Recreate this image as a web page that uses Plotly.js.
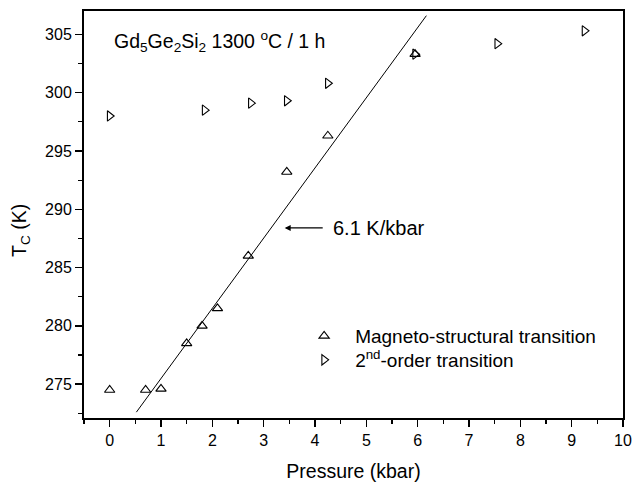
<!DOCTYPE html>
<html>
<head>
<meta charset="utf-8">
<script src="https://cdn.plot.ly/plotly-3.0.1.min.js"></script>
<style>html,body{margin:0;padding:0;background:#fff;}#chart{width:633px;height:482px;}</style>
</head>
<body>
<div id="chart"></div>
<script>
// Magneto-structural transition (open up-triangles)
const msPressure = [0, 0.7, 1.0, 1.5, 1.8, 2.1, 2.7, 3.45, 4.25, 5.95];
const msTc = [274.5, 274.5, 274.6, 278.5, 280.0, 281.5, 286.0, 293.2, 296.3, 303.3];
// 2nd-order transition (open right-triangles)
const soPressure = [0, 1.85, 2.75, 3.45, 4.25, 5.95, 7.55, 9.25];
const soTc = [298.0, 298.5, 299.1, 299.3, 300.8, 303.3, 304.2, 305.3];
// linear fit (6.1 K/kbar)
const fitPressure = [0.52, 6.17];
const fitTc = [272.6, 306.6];
// ticks
const xTicks = [0, 1, 2, 3, 4, 5, 6, 7, 8, 9, 10];
const yTicks = [275, 280, 285, 290, 295, 300, 305];

const FONT = 'Liberation Sans, Arial, Helvetica, sans-serif';

const traces = [
  {
    x: fitPressure, y: fitTc, mode: 'lines', type: 'scatter',
    line: {color: '#000', width: 1}, showlegend: false, hoverinfo: 'skip'
  },
  {
    x: msPressure, y: msTc, mode: 'markers', type: 'scatter',
    name: 'Magneto-structural transition', legend: 'legend',
    marker: {symbol: 'triangle-up-open', size: 9, color: '#000', line: {width: 1.1, color: '#000'}}
  },
  {
    x: soPressure, y: soTc, mode: 'markers', type: 'scatter',
    name: '2<sup>nd</sup>-order transition', legend: 'legend2',
    marker: {symbol: 'triangle-right-open', size: 9, color: '#000', line: {width: 1.1, color: '#000'}}
  }
];

const axisCommon = {
  showgrid: false, zeroline: false,
  showline: true, linecolor: '#000', linewidth: 2, mirror: true,
  ticks: 'outside', ticklen: 7, tickwidth: 1.5, tickcolor: '#000',
  tickfont: {family: FONT, size: 16, color: '#000'}
};

const legendCommon = {
  x: 0.388, xanchor: 'left', yanchor: 'middle',
  bgcolor: 'rgba(0,0,0,0)', borderwidth: 0, itemwidth: 52,
  font: {family: FONT, size: 19, color: '#000'}
};

const layout = {
  width: 633, height: 482,
  margin: {l: 84, r: 10, t: 11, b: 64},
  paper_bgcolor: '#fff', plot_bgcolor: '#fff',
  font: {family: FONT, color: '#000'},
  showlegend: true,
  xaxis: Object.assign({}, axisCommon, {
    range: [-0.5, 10], tickmode: 'array', tickvals: xTicks, ticktext: xTicks.map(String),
    minor: {dtick: 0.5, tick0: 0, ticks: 'outside', ticklen: 4, tickwidth: 1.2, tickcolor: '#000'},
    title: {text: 'Pressure (kbar)', font: {family: FONT, size: 19.5, color: '#000'}, standoff: 24}
  }),
  yaxis: Object.assign({}, axisCommon, {
    range: [272.1, 307], tickmode: 'array', tickvals: yTicks, ticktext: yTicks.map(String),
    minor: {dtick: 2.5, tick0: 275, ticks: 'outside', ticklen: 4, tickwidth: 1.2, tickcolor: '#000'}
  }),
  legend: Object.assign({}, legendCommon, {y: 0.2015}),
  legend2: Object.assign({}, legendCommon, {y: 0.1425}),
  annotations: [
    {
      xref: 'paper', yref: 'paper', x: 0.052, y: 0.926, xanchor: 'left', yanchor: 'middle',
      text: 'Gd<sub>5</sub>Ge<sub>2</sub>Si<sub>2</sub> 1300 <sup>o</sup>C / 1 h',
      showarrow: false, font: {family: FONT, size: 19.5, color: '#000'}
    },
    {
      xref: 'x', yref: 'y', x: 3.41, y: 288.4, ax: 38, ay: 0,
      xanchor: 'left', yanchor: 'middle', borderpad: 9,
      text: '6.1 K/kbar', showarrow: true, arrowhead: 2, arrowsize: 1, arrowwidth: 1.2, arrowcolor: '#000',
      font: {family: FONT, size: 20, color: '#000'}
    },
    {
      xref: 'paper', yref: 'paper', x: -0.117, y: 0.462, xanchor: 'center', yanchor: 'middle',
      textangle: -90, text: 'T<sub>C</sub> (K)', showarrow: false,
      font: {family: FONT, size: 19.5, color: '#000'}
    }
  ]
};

Plotly.newPlot('chart', traces, layout, {displayModeBar: false, staticPlot: true});
</script>
</body>
</html>
